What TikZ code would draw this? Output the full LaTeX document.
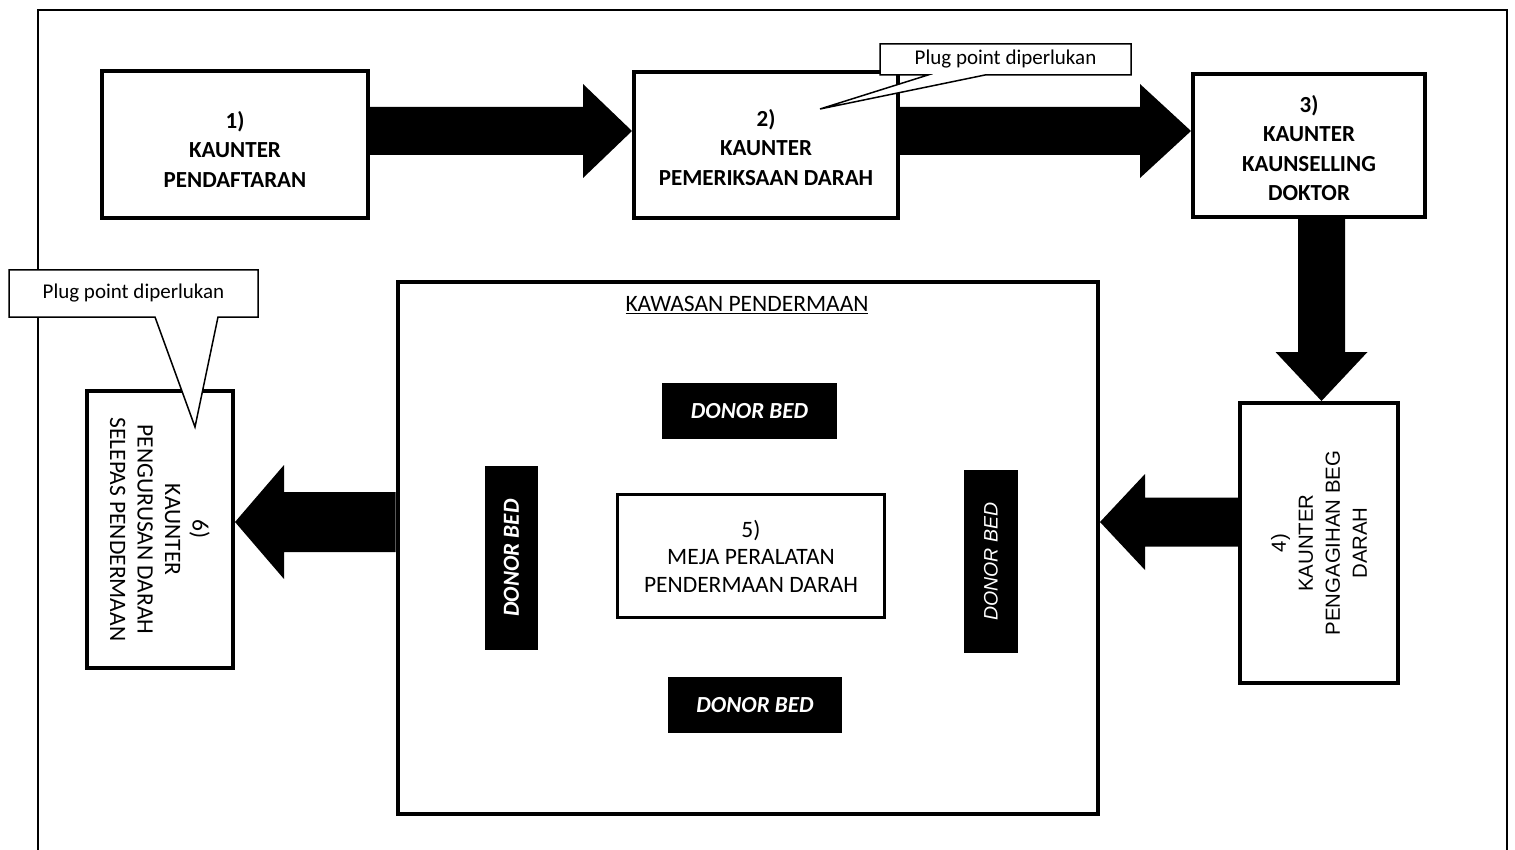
\documentclass[tikz,border=0pt]{standalone}
\usepackage{fontspec}
\setmainfont{Carlito}
\newfontfamily\arialf{Liberation Sans}
\usetikzlibrary{calc}
\begin{document}
\begin{tikzpicture}[x=1pt,y=-1pt,
  box/.style={draw,line width=4pt,inner sep=0pt,align=center,font=\fontsize{23}{29.5}\selectfont\bfseries},
  bed/.style={fill=black,text=white,inner sep=0pt,font=\fontsize{23}{27}\selectfont\bfseries\itshape},
  blk/.style={fill=black},
  callout/.style={draw,fill=white,line width=1.5pt,line join=miter},
  ctext/.style={font=\fontsize{21}{25}\selectfont},
  rtext/.style={align=center,font=\fontsize{23.5}{27.5}\selectfont}]
\useasboundingbox (0,0) rectangle (1515,850);
% outer frame
\draw[line width=2pt] (38,850) -- (38,10) -- (1507,10) -- (1507,850);
% counters
\node[box,minimum width=266pt,minimum height=147pt] (b1) at (235,144.5) {};
\node[box,draw=none] (t1) at (235,149) {1)\\KAUNTER\\PENDAFTARAN};
\node[box,minimum width=264pt,minimum height=146pt] (b2) at (766,145) {};
\node[box,draw=none] (t2) at (766,147.5) {2)\\KAUNTER\\PEMERIKSAAN DARAH};
\node[box,minimum width=232pt,minimum height=143pt] (b3) at (1309,145.5) {};
\node[box,draw=none] (t3) at (1309,148) {3)\\KAUNTER\\KAUNSELLING\\DOKTOR};
\node[box,minimum width=158pt,minimum height=280pt] (b4) at (1319,543) {};
\node[rotate=90,align=center,font=\arialf\fontsize{20.4}{27}\selectfont] (t4) at (b4.center) {4)\\KAUNTER\\PENGAGIHAN BEG\\DARAH};
\node[box,minimum width=146pt,minimum height=277pt] (b6) at (160,529.5) {};
\node[rotate=-90,rtext] (t6) at (b6.center) {6)\\KAUNTER\\PENGURUSAN DARAH\\SELEPAS PENDERMAAN};
% donation area
\node[draw,line width=4pt,inner sep=0pt,minimum width=700.5pt,minimum height=532pt] (area) at (747.75,548) {};
\node[rtext] (areat) at (747,305) {\underline{KAWASAN PENDERMAAN}};
\node[draw,line width=3pt,inner sep=0pt,minimum width=267pt,minimum height=123pt,rtext] (b5) at (751,556) {5)\\MEJA PERALATAN\\PENDERMAAN DARAH};
\node[bed,minimum width=175pt,minimum height=56pt] (d1) at (749.5,411) {DONOR BED};
\node[bed,minimum width=174pt,minimum height=56pt] (d2) at (755,705) {DONOR BED};
\node[bed,rotate=90,minimum width=184pt,minimum height=53pt] (d3) at (511.5,558) {DONOR BED};
\node[bed,rotate=90,minimum width=183pt,minimum height=54pt,font=\arialf\itshape\fontsize{19.5}{24}\selectfont] (d4) at (991,561.5) {DONOR BED};
% block arrows
\coordinate (y12) at (0,131);
\fill ($(b1.east|-y12)+(0,-24)$) -- ($(b2.west|-y12)+(-49,-24)$) -- ($(b2.west|-y12)+(-49,-47)$) -- (b2.west|-y12) -- ($(b2.west|-y12)+(-49,47)$) -- ($(b2.west|-y12)+(-49,24)$) -- ($(b1.east|-y12)+(0,24)$) -- cycle;
\fill ($(b2.east|-y12)+(0,-24)$) -- ($(b3.west|-y12)+(-51,-24)$) -- ($(b3.west|-y12)+(-51,-47)$) -- (b3.west|-y12) -- ($(b3.west|-y12)+(-51,47)$) -- ($(b3.west|-y12)+(-51,24)$) -- ($(b2.east|-y12)+(0,24)$) -- cycle;
\coordinate (x34) at (1321.5,0);
\fill ($(b3.south-|x34)+(-23.5,0)$) -- ($(b4.north-|x34)+(-23.5,-49)$) -- ($(b4.north-|x34)+(-46,-49)$) -- (b4.north-|x34) -- ($(b4.north-|x34)+(46,-49)$) -- ($(b4.north-|x34)+(23.5,-49)$) -- ($(b3.south-|x34)+(23.5,0)$) -- cycle;
\coordinate (y4) at (0,522);
\fill ($(b4.west|-y4)+(0,-24.5)$) -- ($(area.east|-y4)+(45,-24.5)$) -- ($(area.east|-y4)+(45,-48)$) -- (area.east|-y4) -- ($(area.east|-y4)+(45,48)$) -- ($(area.east|-y4)+(45,24.5)$) -- ($(b4.west|-y4)+(0,24.5)$) -- cycle;
\fill ($(area.west|-y4)+(0,-30)$) -- ($(b6.east|-y4)+(49,-30)$) -- ($(b6.east|-y4)+(49,-57)$) -- (b6.east|-y4) -- ($(b6.east|-y4)+(49,57)$) -- ($(b6.east|-y4)+(49,30)$) -- ($(area.west|-y4)+(0,30)$) -- cycle;
% callouts
\draw[callout] (880,44) -- (1131,44) -- (1131,75) -- (985,75) -- (820,109) -- (928,75) -- (880,75) -- cycle;
\node[ctext] (c1) at (1005.5,59.5) {Plug point diperlukan};
\draw[callout] (9,270) -- (258,270) -- (258,317) -- (218,317) -- (195,427) -- (155,317) -- (9,317) -- cycle;
\node[ctext] (c2) at (133.5,293.5) {Plug point diperlukan};
\end{tikzpicture}
\end{document}
